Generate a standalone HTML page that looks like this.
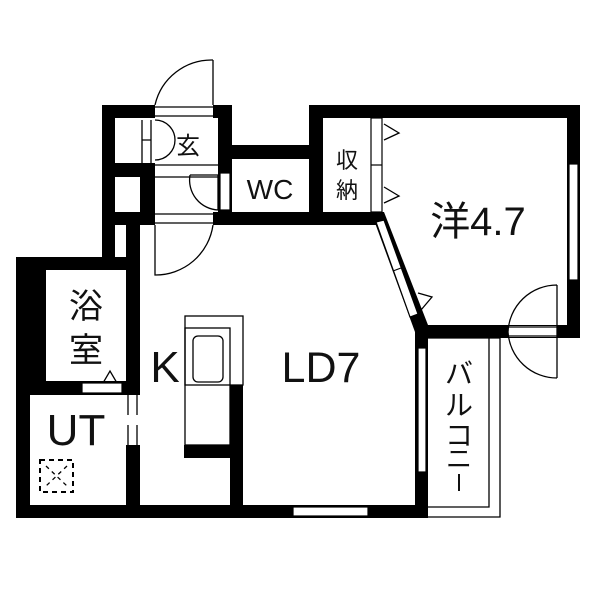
<!DOCTYPE html>
<html><head><meta charset="utf-8"><style>
html,body{margin:0;padding:0;background:#fff}
svg{display:block}
text{font-family:"Liberation Sans","Noto Sans CJK JP",sans-serif;fill:#111}
</style></head><body>
<svg width="600" height="600" viewBox="0 0 600 600" xmlns="http://www.w3.org/2000/svg">
<g fill="#000">
<rect x="102" y="105" width="53" height="13"/>
<rect x="213" y="105" width="19" height="13"/>
<rect x="102" y="105" width="13" height="165"/>
<rect x="218" y="105" width="14" height="120"/>
<rect x="102" y="163" width="53" height="14"/>
<rect x="140" y="163" width="15" height="50"/>
<rect x="102" y="212" width="53" height="13"/>
<rect x="213" y="212" width="165" height="13"/>
<rect x="232" y="145" width="80" height="14"/>
<rect x="309" y="105" width="14" height="120"/>
<rect x="126" y="225" width="14" height="45"/>
<rect x="16" y="257" width="124" height="13"/>
<rect x="16" y="257" width="30" height="138"/>
<rect x="16" y="381" width="124" height="14"/>
<rect x="16" y="381" width="14" height="137"/>
<rect x="126" y="257" width="14" height="138"/>
<rect x="126" y="445" width="14" height="73"/>
<rect x="16" y="505" width="412" height="13"/>
<rect x="230" y="385" width="13" height="133"/>
<rect x="184" y="445" width="46" height="13"/>
<rect x="415" y="325" width="13" height="193"/>
<rect x="309" y="105" width="271" height="13"/>
<rect x="567" y="105" width="13" height="233"/>
<rect x="415" y="325" width="165" height="13"/>
<polygon points="371,212 384,212 428,325 415,332"/>
</g>
<g fill="#fff" stroke="#000" stroke-width="1.2">
<rect x="82" y="383" width="40" height="10"/>
<rect x="293" y="507" width="75" height="9"/>
<rect x="418" y="348" width="8" height="124"/>
<rect x="569" y="164" width="9" height="116"/>
<rect x="128" y="395" width="9" height="50" stroke="none"/>
<rect x="371" y="118" width="11" height="94"/>
<line x1="371" y1="165" x2="382" y2="165"/>
<polygon points="376,222 384,220 418,314 410,317"/>
<line x1="393" y1="271" x2="401" y2="268"/>
<rect x="220" y="173" width="10" height="37"/>
<rect x="508" y="326" width="49" height="11" stroke="none"/>
<rect x="155" y="107" width="58" height="9" stroke="none"/>
<rect x="155" y="214" width="58" height="9" stroke="none"/>
</g>
<g fill="none" stroke="#000" stroke-width="1.3">
<line x1="128" y1="395" x2="128" y2="415"/><line x1="128" y1="425" x2="128" y2="445"/>
<line x1="137" y1="395" x2="137" y2="415"/><line x1="137" y1="425" x2="137" y2="445"/>
<path d="M213,60 L213,105 M155,105 A58,58 0 0 1 213,60"/>
<line x1="155" y1="107" x2="213" y2="107"/><line x1="155" y1="116" x2="213" y2="116"/>
<line x1="155" y1="165" x2="218" y2="165"/><line x1="155" y1="177" x2="218" y2="177"/>
<line x1="155" y1="214" x2="213" y2="214"/><line x1="155" y1="223" x2="213" y2="223"/>
<path d="M155,225 L155,275 A58,58 0 0 0 213,225"/>
<path d="M190,175 L218,175 L218,210 A30,30 0 0 1 190,175"/>
<path d="M142,120 L142,163 M151,120 L151,163 M142,140 L151,140 M155,120 A20,20 0 0 1 155,160"/>
<path d="M557,285 L557,378 M508,332 A49,49 0 0 1 557,285 M508,332 A49,49 0 0 0 557,378"/>
<line x1="508" y1="327" x2="557" y2="327"/><line x1="508" y1="336" x2="557" y2="336"/>
<path d="M384,124 L399,133 L384,140 M384,187 L399,196 L384,203 M418,293 L432,297 L421,310"/>
<path d="M103,383 L110,371 L117,383"/>
<rect x="185" y="316" width="58" height="69"/>
<rect x="185" y="328" width="45" height="117"/>
<rect x="193" y="336" width="30" height="46" rx="5"/>
<path d="M428,338 L500,338 L500,517 L428,517 M489,338 L489,507 L428,507"/>
<rect x="40" y="460" width="33" height="32" stroke-dasharray="5,4" stroke-width="2"/>
<path d="M46,466 L67,486 M67,466 L46,486" stroke-dasharray="4,4"/>
</g>
<text x="188" y="154" font-size="24" text-anchor="middle">玄</text>
<text x="270" y="199" font-size="28" text-anchor="middle">WC</text>
<text x="347" y="168" font-size="22" text-anchor="middle">収</text>
<text x="347" y="198" font-size="22" text-anchor="middle">納</text>
<text x="478" y="235" font-size="40" text-anchor="middle">洋4.7</text>
<text x="86" y="318" font-size="34" text-anchor="middle">浴</text>
<text x="86" y="362" font-size="34" text-anchor="middle">室</text>
<text x="165" y="382" font-size="44" text-anchor="middle">K</text>
<text x="321" y="382" font-size="43" text-anchor="middle">LD7</text>
<text x="76" y="445" font-size="44" text-anchor="middle">UT</text>
<text x="459" y="383" font-size="28" text-anchor="middle">バ</text>
<text x="459" y="415" font-size="28" text-anchor="middle">ル</text>
<text x="459" y="445" font-size="28" text-anchor="middle">コ</text>
<text x="459" y="468" font-size="26" text-anchor="middle">ニ</text>
<rect x="458" y="474" width="2" height="17" fill="#111"/>
</svg>
</body></html>
